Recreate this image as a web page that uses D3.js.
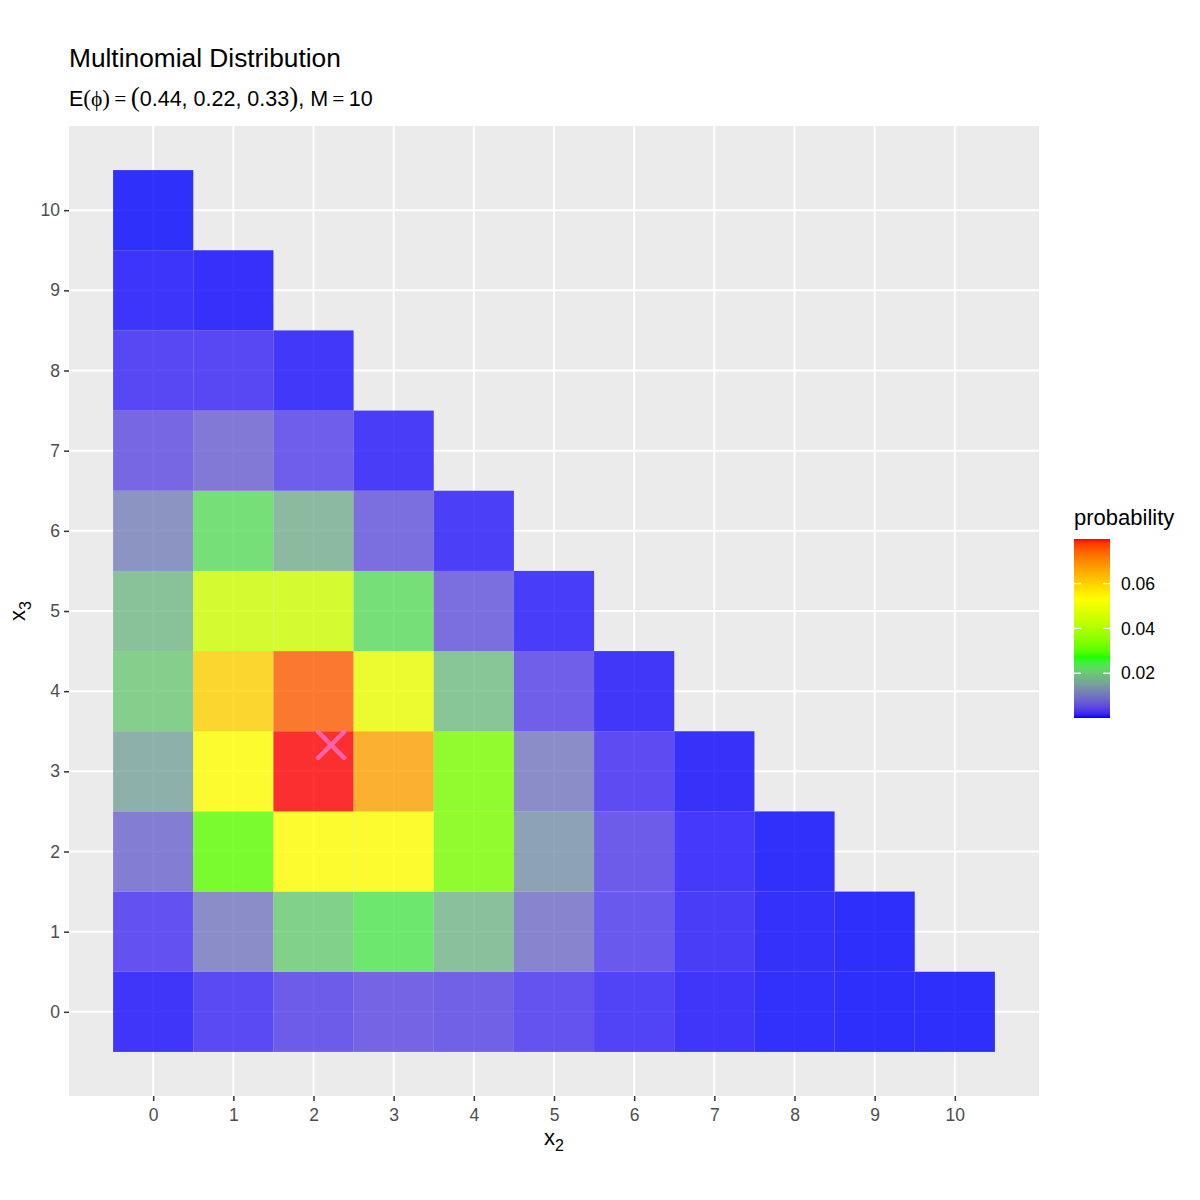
<!DOCTYPE html>
<html lang="en">
<head>
    <meta charset="UTF-8">
    <title>Multinomial Distribution</title>
    <script src="https://d3js.org/d3.v7.min.js"></script>
    <style>
        body {
            margin: 0;
            background: #ffffff;
            font-family: Arial, "Liberation Sans", sans-serif;
        }
        .tick text {
            fill: #4d4d4d;
        }
    </style>
</head>
<body>
    <div id="chart"></div>

    <script>
        // probability of each (x2, x3) cell, one array per x3 value, indexed by x2
        const probX3_0 = [0.0003007, 0.001504, 0.003383, 0.004511, 0.003947, 0.002368, 0.0009868, 0.0002819, 0.00005286, 0.000005874, 0.0000002937];
        const probX3_1 = [0.002256, 0.01015, 0.02030, 0.02368, 0.01776, 0.008881, 0.002960, 0.0006344, 0.00007929, 0.000004405];
        const probX3_2 = [0.007612, 0.03045, 0.05329, 0.05329, 0.03330, 0.01332, 0.003330, 0.0004758, 0.00002974];
        const probX3_3 = [0.01522, 0.05329, 0.07993, 0.06661, 0.03330, 0.009991, 0.001665, 0.0001189];
        const probX3_4 = [0.01998, 0.05995, 0.07493, 0.04996, 0.01873, 0.003747, 0.0003122];
        const probX3_5 = [0.01798, 0.04496, 0.04496, 0.02248, 0.005620, 0.0005620];
        const probX3_6 = [0.01124, 0.02248, 0.01686, 0.005620, 0.0007025];
        const probX3_7 = [0.004817, 0.007226, 0.003613, 0.0006021];
        const probX3_8 = [0.001355, 0.001355, 0.0003387];
        const probX3_9 = [0.0002258, 0.0001129];
        const probX3_10 = [0.00001694];

        const axisTicks = [0, 1, 2, 3, 4, 5, 6, 7, 8, 9, 10];
        const legendTicks = [0.02, 0.04, 0.06];
        const expectedPoint = [2.22, 3.33]; // M * E(phi) for x2, x3
        const fillColours = ["blue", "#00ff00", "yellow", "red"];

        const rows = [probX3_0, probX3_1, probX3_2, probX3_3, probX3_4, probX3_5,
                      probX3_6, probX3_7, probX3_8, probX3_9, probX3_10];
        const cells = [];
        rows.forEach((row, x3) => row.forEach((p, x2) => cells.push({ x2: x2, x3: x3, p: p })));

        const width = 1200, height = 1200;
        const panel = { left: 69, top: 126, right: 1039, bottom: 1096 };

        const svg = d3.select("#chart").append("svg")
            .attr("width", width).attr("height", height);

        const x = d3.scaleLinear().domain([-1.05, 11.05]).range([panel.left, panel.right]);
        const y = d3.scaleLinear().domain([-1.05, 11.05]).range([panel.bottom, panel.top]);

        const [lo, hi] = d3.extent(cells, d => d.p);
        const colour = d3.scaleLinear()
            .domain(d3.range(4).map(i => lo + (hi - lo) * i / 3))
            .range(fillColours)
            .interpolate(d3.interpolateLab);

        // panel background + grid
        svg.append("rect")
            .attr("x", panel.left).attr("y", panel.top)
            .attr("width", panel.right - panel.left).attr("height", panel.bottom - panel.top)
            .attr("fill", "#ebebeb");

        svg.append("g").selectAll("line").data(axisTicks).enter().append("line")
            .attr("x1", d => x(d)).attr("x2", d => x(d))
            .attr("y1", panel.top).attr("y2", panel.bottom)
            .attr("stroke", "#ffffff").attr("stroke-width", 2);
        svg.append("g").selectAll("line").data(axisTicks).enter().append("line")
            .attr("y1", d => y(d)).attr("y2", d => y(d))
            .attr("x1", panel.left).attr("x2", panel.right)
            .attr("stroke", "#ffffff").attr("stroke-width", 2);

        // tiles
        const cw = x(1) - x(0);
        svg.append("g").selectAll("rect").data(cells).enter().append("rect")
            .attr("x", d => x(d.x2 - 0.5))
            .attr("y", d => y(d.x3 + 0.5))
            .attr("width", cw)
            .attr("height", cw)
            .attr("fill", d => colour(d.p))
            .attr("fill-opacity", 0.8);

        // expected value marker
        const mx = x(expectedPoint[0]), my = y(expectedPoint[1]), r = 13;
        const cross = svg.append("g")
            .attr("stroke", "#ff69b4").attr("stroke-width", 4.5)
            .attr("stroke-linecap", "round").attr("opacity", 0.9);
        cross.append("line").attr("x1", mx - r).attr("y1", my - r).attr("x2", mx + r).attr("y2", my + r);
        cross.append("line").attr("x1", mx - r).attr("y1", my + r).attr("x2", mx + r).attr("y2", my - r);

        // axes
        const xAxis = svg.append("g")
            .attr("transform", `translate(0,${panel.bottom})`)
            .call(d3.axisBottom(x).tickValues(axisTicks).tickSize(5).tickPadding(8));
        const yAxis = svg.append("g")
            .attr("transform", `translate(${panel.left},0)`)
            .call(d3.axisLeft(y).tickValues(axisTicks).tickSize(5).tickPadding(4));
        [xAxis, yAxis].forEach(a => {
            a.select(".domain").remove();
            a.selectAll(".tick line").attr("stroke", "#333333").attr("stroke-width", 1.5);
            a.selectAll(".tick text").style("font-size", "17.5px").style("font-family", "Arial, 'Liberation Sans', sans-serif");
        });

        // axis titles
        const xt = svg.append("text")
            .attr("x", (panel.left + panel.right) / 2).attr("y", 1145)
            .attr("text-anchor", "middle")
            .style("font-size", "22px").attr("fill", "#000");
        xt.append("tspan").text("x");
        xt.append("tspan").attr("dy", 6).style("font-size", "16px").text("2");

        const yt = svg.append("text")
            .attr("transform", `translate(25,${(panel.top + panel.bottom) / 2}) rotate(-90)`)
            .attr("text-anchor", "middle")
            .style("font-size", "22px").attr("fill", "#000");
        yt.append("tspan").text("x");
        yt.append("tspan").attr("dy", 6).style("font-size", "16px").text("3");

        // title + subtitle
        svg.append("text")
            .attr("x", 69).attr("y", 67)
            .style("font-size", "26.3px").attr("fill", "#000")
            .text("Multinomial Distribution");

        const sub = svg.append("text")
            .attr("x", 69).attr("y", 106)
            .style("font-size", "21.5px").attr("fill", "#000");
        const serif = "'Liberation Serif', 'DejaVu Serif', serif";
        sub.append("tspan").text("E");
        sub.append("tspan").style("font-family", serif).style("font-size", "23px").text("(");
        sub.append("tspan").style("font-family", serif).text("\u03d5");
        sub.append("tspan").style("font-family", serif).style("font-size", "23px").text(")");
        sub.append("tspan").style("font-family", serif).text("\u2009=\u2009");
        sub.append("tspan").style("font-family", serif).style("font-size", "27px").text("(");
        sub.append("tspan").text("0.44, 0.22, 0.33");
        sub.append("tspan").style("font-family", serif).style("font-size", "27px").text(")");
        sub.append("tspan").text(", M");
        sub.append("tspan").style("font-family", serif).text("\u2009=\u2009");
        sub.append("tspan").text("10");

        // colour bar legend
        const bar = { x: 1074, top: 539, bottom: 718, w: 36 };
        const ly = d3.scaleLinear().domain([lo, hi]).range([bar.bottom, bar.top]);

        const grad = svg.append("defs").append("linearGradient")
            .attr("id", "probGrad").attr("x1", 0).attr("y1", 1).attr("x2", 0).attr("y2", 0);
        d3.range(0, 1.0001, 0.02).forEach(t => {
            grad.append("stop").attr("offset", t).attr("stop-color", colour(lo + t * (hi - lo)));
        });

        svg.append("text")
            .attr("x", bar.x).attr("y", 525)
            .style("font-size", "22px").attr("fill", "#000")
            .text("probability");

        svg.append("rect")
            .attr("x", bar.x).attr("y", bar.top)
            .attr("width", bar.w).attr("height", bar.bottom - bar.top)
            .attr("fill", "url(#probGrad)");

        const lt = svg.append("g").selectAll("g").data(legendTicks).enter().append("g");
        lt.append("line")
            .attr("x1", bar.x).attr("x2", bar.x + 7)
            .attr("y1", d => ly(d)).attr("y2", d => ly(d))
            .attr("stroke", "#ffffff").attr("stroke-width", 1.2);
        lt.append("line")
            .attr("x1", bar.x + bar.w - 7).attr("x2", bar.x + bar.w)
            .attr("y1", d => ly(d)).attr("y2", d => ly(d))
            .attr("stroke", "#ffffff").attr("stroke-width", 1.2);
        lt.append("text")
            .attr("x", bar.x + bar.w + 11).attr("y", d => ly(d))
            .attr("dy", "0.35em")
            .style("font-size", "17.5px").attr("fill", "#000")
            .text(d => d3.format(".2f")(d));
    </script>
</body>
</html>
